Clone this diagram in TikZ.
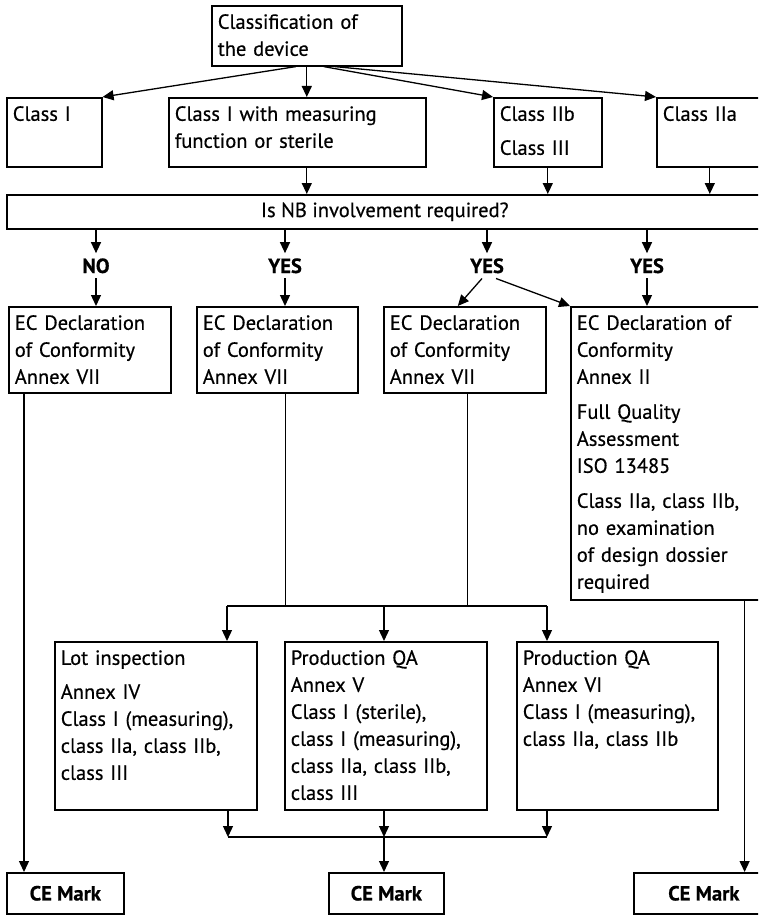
\documentclass[tikz,border=0pt]{standalone}
\usepackage{fontspec}
\setmainfont{PT Sans}[FakeBold=0.5]
\usetikzlibrary{arrows.meta, positioning}

\begin{document}
\begin{tikzpicture}[x=1pt, y=-1pt,
    font=\fontsize{20.5}{27}\selectfont,
    box/.style={rectangle, draw, line width=1.6pt, anchor=north west, align=left,
                inner xsep=6pt, inner ysep=5pt, text height=18pt},
    bar/.style={rectangle, draw, line width=1.6pt, anchor=north west, align=center},
    cebox/.style={rectangle, draw, line width=1.6pt, anchor=north west,
                  font=\fontsize{20.5}{27}\selectfont\bfseries},
    answer/.style={anchor=base, inner sep=5pt, font=\fontsize{20.5}{27}\selectfont\bfseries},
    link/.style={line width=1.3pt},
    arr/.style={-{Triangle[length=11pt, width=10pt]}, line width=1.3pt}
  ]
    \clip (0,0) rectangle (758,915);

    % classification
    \node[box, text width=178pt, text depth=32pt] (cls) at (211,5) {Classification of\\the device};
    \node[box, text width=83pt, text depth=41pt] (c1) at (6,97) {Class I};
    \node[box, text width=245pt, text depth=41pt] (c1m) at (168,97) {Class I with measuring\\function or sterile};
    \node[box, text width=96pt, text depth=41pt] (c2b) at (493,97) {Class IIb\\[7pt]Class III};
    \node[box, text width=94pt, text depth=41pt] (c2a) at (656,97) {Class IIa};
    \node[bar, minimum width=756pt, minimum height=34pt] (nb) at (6,194) {Is NB involvement required?};

    % answers
    \node[answer] (no) at (96,273) {NO};
    \node[answer] (yes1) at (285,273) {YES};
    \node[answer] (yes2) at (487,273) {YES};
    \node[answer] (yes3) at (647,273) {YES};

    % declarations
    \node[box, text width=150pt, text depth=58pt] (ec1) at (8,306) {EC Declaration\\of Conformity\\Annex VII};
    \node[box, text width=149pt, text depth=58pt] (ec2) at (196,306) {EC Declaration\\of Conformity\\Annex VII};
    \node[box, text width=150pt, text depth=58pt] (ec3) at (383,306) {EC Declaration\\of Conformity\\Annex VII};
    \node[box, text width=180pt, text depth=265pt] (anx) at (570,306)
      {EC Declaration of\\Conformity\\Annex II\\[8pt]Full Quality\\Assessment\\ISO 13485\\[8pt]Class IIa, class IIb,\\no examination\\of design dossier\\required};

    % production
    \node[box, text width=190pt, text depth=140pt] (lot) at (54,641)
      {Lot inspection\\[7pt]Annex IV\\Class I (measuring),\\class IIa, class IIb,\\class III};
    \node[box, text width=190pt, text depth=140pt] (pqa5) at (284,641)
      {Production QA\\Annex V\\Class I (sterile),\\class I (measuring),\\class IIa, class IIb,\\class III};
    \node[box, text width=189pt, text depth=140pt] (pqa6) at (516,641)
      {Production QA\\Annex VI\\Class I (measuring),\\class IIa, class IIb};

    % marks
    \node[cebox, minimum width=117pt, minimum height=41pt] (ce1) at (6,872) {CE Mark};
    \node[cebox, minimum width=115pt, minimum height=41pt] (ce2) at (328,872) {CE Mark};
    \node[cebox, minimum width=140pt, minimum height=41pt] (ce3) at (633,872) {CE Mark};

    % top connectors
    \draw[arr] ([xshift=-11pt]cls.south) -- (c1.north east);
    \draw[arr] (cls.south) -- (cls.south |- c1m.north);
    \draw[arr] ([xshift=17pt]cls.south) -- (c2b.north west);
    \draw[arr] ([xshift=28pt]cls.south) -- (c2a.north west);
    \draw[arr] (cls.south |- c1m.south) -- (cls.south |- nb.north);
    \draw[arr] (c2b.south) -- (c2b.south |- nb.north);
    \draw[arr] (c2a.south) -- (c2a.south |- nb.north);

    \foreach \a in {no, yes1, yes2, yes3}
      \draw[arr] (nb.south -| \a) -- (\a.north);
    \draw[arr] (no.south) -- (no.south |- ec1.north);
    \draw[arr] (yes1.south) -- (yes1.south |- ec2.north);
    \draw[arr] ([xshift=-5pt]yes2.south) -- ([xshift=-7pt]ec3.north);
    \draw[arr] ([xshift=9pt]yes2.south) -- (anx.north west);
    \draw[arr] (yes3.south) -- (yes3.south |- anx.north);

    % down to the modules
    \coordinate (d1) at ([xshift=16pt]ec1.south west);
    \coordinate (d2) at ([xshift=8pt]ec2.south);
    \coordinate (d3) at ([xshift=3pt]ec3.south);
    \coordinate (d4) at ([xshift=-19pt]anx.south east);
    \coordinate (j1) at (227,606);
    \coordinate (j2) at (384,606);
    \coordinate (j3) at (547,606);
    \draw[link] (d2) -- (d2 |- j1);
    \draw[link] (d3) -- (d3 |- j1);
    \draw[link] (j1) -- (j3);
    \draw[arr] (j1) -- (j1 |- lot.north);
    \draw[arr] (j2) -- (j2 |- pqa5.north);
    \draw[arr] (j3) -- (j3 |- pqa6.north);

    % to the marks
    \coordinate (m1) at (228,837);
    \coordinate (m2) at (384,837);
    \coordinate (m3) at (547,837);
    \draw[arr] (m1 |- lot.south) -- (m1);
    \draw[arr] (m2 |- pqa5.south) -- (m2);
    \draw[arr] (m3 |- pqa6.south) -- (m3);
    \draw[link] (m1) -- (m3);
    \draw[arr] (m2) -- (m2 |- ce2.north);
    \draw[arr] (d1) -- (d1 |- ce1.north);
    \draw[arr] (d4) -- (d4 |- ce3.north);
  \end{tikzpicture}
\end{document}
